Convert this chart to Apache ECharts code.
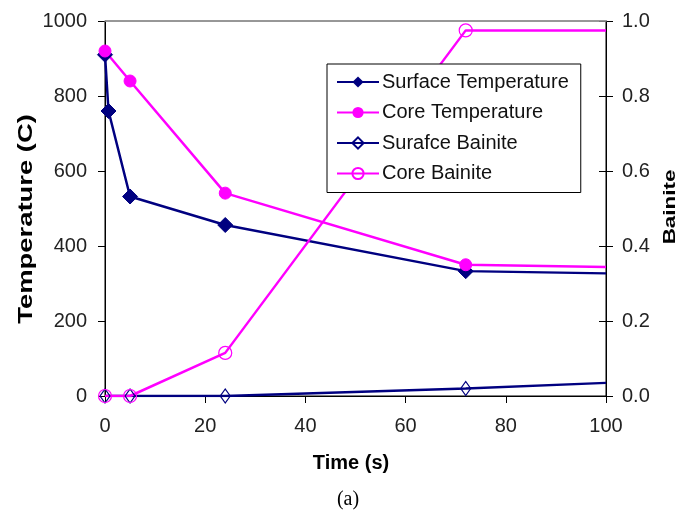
<!DOCTYPE html>
<html><head><meta charset="utf-8">
<script src="https://cdn.jsdelivr.net/npm/echarts@6/dist/echarts.min.js"></script>
<style>html,body{margin:0;padding:0;background:#fff}#c{width:694px;height:516px}</style>
</head><body><div id="c"></div>
<script>
// Data
var surfaceTemp = [[0,910],[0.7,760],[5,532],[24,456],[72,333],[100,327]];
var coreTemp = [[0,920],[5,840],[24,541],[72,350],[100,344]];
var surfaceBainite = [[0,0],[5,0],[24,0],[72,0.02],[100,0.035]];
var coreBainite = [[0,0],[5,0],[24,0.115],[72,0.975],[100,0.975]];
var xTicks = [0,20,40,60,80,100];
var seriesNames = ['Surface Temperature','Core Temperature','Surafce Bainite','Core Bainite'];

var NAVY = '#000080', MAG = '#FF00FF';
function pts(arr){ // last point is line end without marker
  return arr.map(function(p,i){ return i===arr.length-1 ? {value:p, symbol:'none'} : {value:p}; });
}
var font = 'Liberation Sans, Arial, sans-serif';
var chart = echarts.init(document.getElementById('c'));
chart.setOption({
  animation:false,
  backgroundColor:'#fff',
  grid:{left:105,right:88,top:21,bottom:120,containLabel:false,show:true,borderColor:'#000',borderWidth:1,backgroundColor:'rgba(0,0,0,0)'},
  xAxis:[{type:'value',min:0,max:100,interval:20,
    axisLine:{onZero:false,lineStyle:{color:'#000',width:1}},
    axisTick:{length:7,lineStyle:{color:'#000'}},
    axisLabel:{fontFamily:font,fontSize:20,color:'#222',margin:20},
    splitLine:{show:false}},
   {type:'value',position:'top',min:0,max:100,z:10,
    axisLine:{show:true,onZero:false,lineStyle:{color:'#a0a0a0',width:1.5}},
    axisTick:{show:false},axisLabel:{show:false},splitLine:{show:false}}],
  yAxis:[{type:'value',min:0,max:1000,interval:200,
    axisLine:{show:true,onZero:false,lineStyle:{color:'#000'}},
    axisTick:{show:true,length:7,lineStyle:{color:'#000'}},
    axisLabel:{fontFamily:font,fontSize:20,color:'#222',margin:18,formatter:function(v){return String(v);}},
    splitLine:{show:false}},
   {type:'value',position:'right',min:0,max:1,interval:0.2,
    axisLine:{show:true,onZero:false,lineStyle:{color:'#000'}},
    axisTick:{show:true,length:7,lineStyle:{color:'#000'}},
    axisLabel:{fontFamily:font,fontSize:20,color:'#222',margin:16,formatter:function(v){return v.toFixed(1);}},
    splitLine:{show:false}},
   {type:'value',position:'right',min:0,max:1,interval:0.2,
    axisLine:{show:false,onZero:false},
    axisTick:{show:true,inside:true,length:7,lineStyle:{color:'#000'}},
    axisLabel:{show:false},splitLine:{show:false}}],
  legend:{orient:'vertical',left:327,top:64,
    backgroundColor:'#fff',borderColor:'#000',borderWidth:1,
    padding:[8,12,9,9],itemGap:10.5,itemWidth:42,itemHeight:14,
    textStyle:{fontFamily:font,fontSize:20,color:'#111',padding:[0,0,0,-2]},
    data:seriesNames},
  series:[
    {name:seriesNames[0],type:'line',xAxisIndex:0,yAxisIndex:0,data:pts(surfaceTemp),
     color:NAVY,lineStyle:{width:2.5,color:NAVY},symbol:'diamond',symbolSize:15,
     itemStyle:{color:NAVY,borderColor:NAVY}},
    {name:seriesNames[1],type:'line',xAxisIndex:0,yAxisIndex:0,data:pts(coreTemp),
     color:MAG,lineStyle:{width:2.5,color:MAG},symbol:'circle',symbolSize:12,
     itemStyle:{color:MAG,borderColor:MAG}},
    {name:seriesNames[2],type:'line',xAxisIndex:0,yAxisIndex:1,data:pts(surfaceBainite),
     color:NAVY,lineStyle:{width:2.5,color:NAVY},symbol:'diamond',symbolSize:[10,14],
     itemStyle:{color:'rgba(255,255,255,0)',borderColor:NAVY,borderWidth:1.2}},
    {name:seriesNames[3],type:'line',xAxisIndex:0,yAxisIndex:1,data:pts(coreBainite),
     color:MAG,lineStyle:{width:2.5,color:MAG},symbol:'circle',symbolSize:13,
     itemStyle:{color:'rgba(255,255,255,0)',borderColor:MAG,borderWidth:1.2}}
  ],
  graphic:[
    {type:'text',x:26,y:219,rotation:Math.PI/2,scaleX:1.37,style:{text:'Temperature (C)',font:'bold 20px '+font,fill:'#000',align:'center',verticalAlign:'middle'}},
    {type:'text',x:671,y:207,rotation:Math.PI/2,scaleX:1.4,style:{text:'Bainite',font:'bold 16px '+font,fill:'#000',align:'center',verticalAlign:'middle'}},
    {type:'text',x:351,y:463,style:{text:'Time (s)',font:'bold 20px '+font,fill:'#000',align:'center',verticalAlign:'middle'}},
    {type:'text',x:348,y:500,style:{text:'(a)',font:'20px Liberation Serif, Times New Roman, serif',fill:'#000',align:'center',verticalAlign:'middle'}}
  ]
});
</script></body></html>
